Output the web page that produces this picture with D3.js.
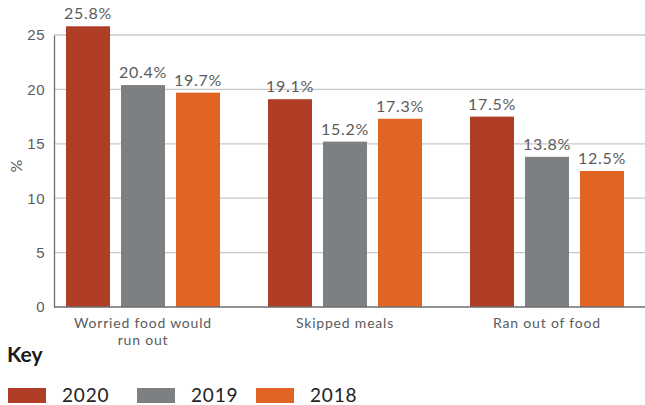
<!DOCTYPE html>
<html>
<head>
<meta charset="utf-8">
<script src="https://cdn.jsdelivr.net/npm/d3@7"></script>
<style>
  html, body { margin: 0; padding: 0; background: #fff; }
  svg { display: block; font-family: Lato, "Open Sans", sans-serif; }
</style>
</head>
<body>
<svg id="chart" width="645" height="405"></svg>
<script>
// Food insecurity indicators by survey year (% of respondents)
const categories = [["Worried food would", "run out"], ["Skipped meals"], ["Ran out of food"]];
const seriesNames = ["2020", "2019", "2018"];
const values2020 = [25.8, 19.1, 17.5];
const values2019 = [20.4, 15.2, 13.8];
const values2018 = [19.7, 17.3, 12.5];
const yTicks = [0, 5, 10, 15, 20, 25];
const colors = ["#B03E26", "#7C8083", "#E06424"];

const seriesValues = [values2020, values2019, values2018];
const catKeys = categories.map(c => c.join(" "));

const svg = d3.select("#chart");
const textColor = "#5A5B5D";

const y = d3.scaleLinear().domain([0, 25]).range([307, 35]);
const x0 = d3.scaleBand().domain(catKeys).range([42, 648]).paddingInner(0).paddingOuter(0);
const x1 = d3.scaleBand().domain(seriesNames).range([24, 178]).paddingInner(0.2).paddingOuter(0);

// horizontal gridlines
svg.append("g")
  .selectAll("line")
  .data(yTicks.filter(t => t > 0))
  .join("line")
  .attr("x1", 54).attr("x2", 645)
  .attr("y1", d => y(d)).attr("y2", d => y(d))
  .attr("stroke", "#C8C8C8").attr("stroke-width", 1.3);

// y axis
const yAxis = svg.append("g")
  .attr("transform", "translate(54,0)")
  .call(d3.axisLeft(y).tickValues(yTicks).tickSize(0).tickPadding(9));
yAxis.select(".domain").attr("stroke", "#6D6E70").attr("stroke-width", 1.3);
yAxis.selectAll("text")
  .attr("fill", textColor).attr("font-size", 15)
  .attr("letter-spacing", 0.5);

// bars
const groups = svg.append("g")
  .selectAll("g")
  .data(catKeys)
  .join("g")
  .attr("transform", d => `translate(${x0(d)},0)`);

groups.selectAll("rect")
  .data((d, i) => seriesNames.map((s, j) => ({ s, j, v: seriesValues[j][i] })))
  .join("rect")
  .attr("x", d => x1(d.s))
  .attr("width", x1.bandwidth())
  .attr("y", d => y(d.v))
  .attr("height", d => y(0) - y(d.v))
  .attr("fill", d => colors[d.j]);

groups.selectAll("text.val")
  .data((d, i) => seriesNames.map((s, j) => ({ s, j, v: seriesValues[j][i] })))
  .join("text")
  .attr("class", "val")
  .attr("x", d => x1(d.s) + x1.bandwidth() / 2)
  .attr("y", d => y(d.v) - 7)
  .attr("text-anchor", "middle")
  .attr("fill", textColor)
  .attr("font-size", 16)
  .attr("letter-spacing", 0.7)
  .text(d => d.v.toFixed(1) + "%");

// x axis baseline
svg.append("line")
  .attr("x1", 54).attr("x2", 645)
  .attr("y1", y(0)).attr("y2", y(0))
  .attr("stroke", "#6D6E70").attr("stroke-width", 1.5);

// category labels, one text element per line
categories.forEach((lines, i) => {
  const cx = x0(catKeys[i]) + x0.bandwidth() / 2;
  svg.append("g")
    .selectAll("text")
    .data(lines)
    .join("text")
    .attr("x", cx)
    .attr("y", (d, k) => 328 + k * 17)
    .attr("text-anchor", "middle")
    .attr("fill", textColor)
    .attr("font-size", 14)
    .attr("letter-spacing", 0.8)
    .text(d => d);
});

// y axis title
svg.append("text")
  .attr("transform", "translate(22,166) rotate(-90)")
  .attr("text-anchor", "middle")
  .attr("fill", textColor)
  .attr("font-size", 16)
  .text("%");

// key
svg.append("text")
  .attr("x", 7).attr("y", 362)
  .attr("fill", "#1A1A1A")
  .attr("font-size", 21)
  .attr("font-weight", "bold")
  .text("Key");

const legendX = [8, 137, 256];
const legend = svg.append("g")
  .selectAll("g")
  .data(seriesNames)
  .join("g")
  .attr("transform", (d, i) => `translate(${legendX[i]},388)`);
legend.append("rect")
  .attr("width", 38).attr("height", 15)
  .attr("fill", (d, i) => colors[i]);
legend.append("text")
  .attr("x", 54).attr("y", 13.5)
  .attr("fill", "#222")
  .attr("font-size", 19)
  .attr("letter-spacing", 0.8)
  .text(d => d);
</script>
</body>
</html>
